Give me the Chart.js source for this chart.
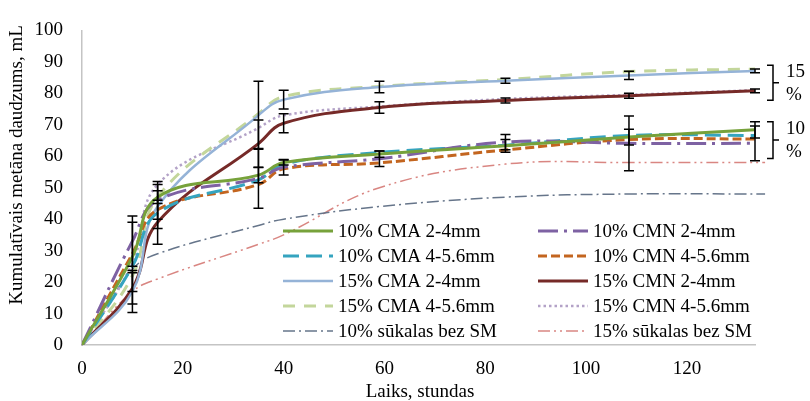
<!DOCTYPE html>
<html>
<head>
<meta charset="utf-8">
<script src="https://cdn.jsdelivr.net/npm/chart.js@4.4.0/dist/chart.umd.min.js"></script>
<style>
  body { margin: 0; background: #fff; }
  #wrap { width: 810px; height: 401px; }
</style>
</head>
<body>
<div id="wrap"><canvas id="methaneChart" width="810" height="401"></canvas></div>
<script>
// sampling times (hours)
var hours = [0, 10, 15, 35, 40, 59, 84, 108.5, 133.5];
var hoursWhey = [0, 10, 15, 35, 40, 59, 84, 108.5, 135.5];

var xTickValues = [0, 20, 40, 60, 80, 100, 120];
var yTickValues = [0, 10, 20, 30, 40, 50, 60, 70, 80, 90, 100];

var seriesLabels = ["10% CMA 2-4mm", "10% CMN 2-4mm", "10% CMA 4-5.6mm", "10% CMN 4-5.6mm",
  "15% CMA 2-4mm", "15% CMN 2-4mm", "15% CMA 4-5.6mm", "15% CMN 4-5.6mm",
  "10% sūkalas bez SM", "15% sūkalas bez SM"];

// cumulative methane, mL
var cma10_24  = [0, 28, 47, 54, 58, 60.7, 63.3, 66.1, 68.4];
var cmn10_24  = [0, 33, 46, 53, 56.5, 59.2, 64.5, 64.1, 64.1];
var cma10_456 = [0, 25, 42, 52.5, 57.5, 61.2, 63.5, 66.6, 66.6];
var cmn10_456 = [0, 29, 43, 51, 56, 57.9, 62, 65.3, 65.5];
var cma15_24  = [0, 17, 44, 73, 78, 82, 84, 85.7, 87.1];
var cmn15_24  = [0, 18, 39, 64, 70.5, 75.5, 77.7, 79.2, 80.8];
var cma15_456 = [0, 22, 47, 73.5, 79, 82.2, 84.4, 86.9, 87.7];
var cmn15_456 = [0, 26, 51, 69, 73, 75.8, 78.2, 79.5, 81];
var whey10    = [0, 24, 29, 38, 40, 44, 47, 48, 48];
var whey15    = [0, 17, 21, 32, 35, 50, 57.5, 58, 58];

// +/- error
var errCma10_24 = [0, 11, 2, 2.4, 0.8, 1, 2, 2.5, 2.6];
var errCmn10_24 = [0, 8, 6, 9.5, 2.5, 2.5, 2.4, 8.7, 5.5];
var errCma15_24 = [0, 6.7, 7, 10.8, 3, 1.8, 0.8, 1.3, 0.6];
var errCmn15_24 = [0, 5, 7, 7.5, 3, 1.8, 0.8, 0.8, 0.6];

// bracket groups on the right
var groupLabels = ["15", "10"];
var groupTop = [88.9, 71];
var groupBottom = [77.8, 59.3];

var serif = "'Liberation Serif', 'Times New Roman', serif";

function pts(xs, ys) {
  return ys.map(function (v, i) { return { x: xs[i], y: v }; });
}

function line(label, xs, ys, color, width, dash, extra) {
  var ds = {
    label: label,
    data: pts(xs, ys),
    borderColor: color,
    borderWidth: width,
    borderDash: dash,
    pointRadius: 0,
    tension: 0.4,
    fill: false
  };
  return Object.assign(ds, extra || {});
}

var datasets = [
  line(seriesLabels[0], hours, cma10_24, '#77a23b', 3, [], { errorBars: errCma10_24 }),
  line(seriesLabels[1], hours, cmn10_24, '#7e62a3', 3, [20, 6, 3, 6], { errorBars: errCmn10_24 }),
  line(seriesLabels[2], hours, cma10_456, '#35a4bf', 3, [16, 7]),
  line(seriesLabels[3], hours, cmn10_456, '#c3651f', 3, [9, 4]),
  line(seriesLabels[4], hours, cma15_24, '#95b3d7', 2.5, [], { errorBars: errCma15_24 }),
  line(seriesLabels[5], hours, cmn15_24, '#762a28', 3, [], { errorBars: errCmn15_24 }),
  line(seriesLabels[6], hours, cma15_456, '#c3d69b', 3, [12, 9]),
  line(seriesLabels[7], hours, cmn15_456, '#b3a2c7', 2.5, [2.5, 3]),
  line(seriesLabels[8], hoursWhey, whey10, '#66758a', 1.5, [12, 4, 2, 4], { clip: false }),
  line(seriesLabels[9], hoursWhey, whey15, '#d98682', 1.5, [12, 4, 2, 4, 2, 4], { clip: false })
];

var overlay = {
  id: 'overlay',
  afterDatasetsDraw: function (chart) {
    var ctx = chart.ctx, xs = chart.scales.x, ys = chart.scales.y;
    ctx.save();
    ctx.strokeStyle = '#000';
    ctx.lineWidth = 1.5;
    chart.data.datasets.forEach(function (ds) {
      if (!ds.errorBars) return;
      ds.data.forEach(function (p, i) {
        var e = ds.errorBars[i];
        if (!e) return;
        var x = xs.getPixelForValue(p.x);
        var y1 = ys.getPixelForValue(p.y + e), y2 = ys.getPixelForValue(p.y - e);
        ctx.beginPath();
        ctx.moveTo(x, y1); ctx.lineTo(x, y2);
        ctx.moveTo(x - 5, y1); ctx.lineTo(x + 5, y1);
        ctx.moveTo(x - 5, y2); ctx.lineTo(x + 5, y2);
        ctx.stroke();
      });
    });
    ctx.restore();
  },
  afterDraw: function (chart) {
    var ctx = chart.ctx, xs = chart.scales.x, ys = chart.scales.y;
    ctx.save();
    ctx.font = '19px ' + serif;
    ctx.fillStyle = '#000';

    // legend, two columns inside the plot
    var colX = [283, 538];
    chart.data.datasets.forEach(function (ds, k) {
      var lx = colX[k % 2], ly = 231 + Math.floor(k / 2) * 25;
      ctx.save();
      ctx.strokeStyle = ds.borderColor;
      ctx.lineWidth = ds.borderWidth;
      ctx.setLineDash(ds.borderDash);
      ctx.beginPath();
      ctx.moveTo(lx, ly);
      ctx.lineTo(lx + 50, ly);
      ctx.stroke();
      ctx.restore();
      ctx.textAlign = 'left';
      ctx.textBaseline = 'middle';
      ctx.fillText(ds.label, lx + 55, ly + 1);
    });

    // axis titles
    ctx.textAlign = 'center';
    ctx.textBaseline = 'middle';
    ctx.fillText('Laiks, stundas', 420, 392);
    ctx.save();
    ctx.translate(17, 165);
    ctx.rotate(-Math.PI / 2);
    ctx.fillText('Kumulatīvais metāna daudzums, mL', 0, 0);
    ctx.restore();

    // group brackets
    var xEnd = xs.getPixelForValue(hours[hours.length - 1]);
    ctx.strokeStyle = '#000';
    ctx.lineWidth = 1.5;
    groupLabels.forEach(function (lab, g) {
      var yt = ys.getPixelForValue(groupTop[g]);
      var yb = ys.getPixelForValue(groupBottom[g]);
      var ym = (yt + yb) / 2;
      var x0 = xEnd + 12, x1 = xEnd + 18;
      ctx.beginPath();
      ctx.moveTo(x0, yt); ctx.lineTo(x1, yt); ctx.lineTo(x1, yb); ctx.lineTo(x0, yb);
      ctx.moveTo(x1, ym); ctx.lineTo(x1 + 6, ym);
      ctx.stroke();
      ctx.textAlign = 'left';
      ctx.fillText(lab, xEnd + 31, ym - 11);
      ctx.fillText('%', xEnd + 31, ym + 12);
    });
    ctx.restore();
  }
};

new Chart(document.getElementById('methaneChart'), {
  type: 'line',
  data: { datasets: datasets },
  options: {
    responsive: false,
    animation: false,
    layout: { padding: { top: 21, right: 55, bottom: 0, left: 0 } },
    plugins: { legend: { display: false }, tooltip: { enabled: false } },
    scales: {
      x: {
        type: 'linear',
        min: 0,
        max: 133.5,
        grid: { display: false, drawTicks: false },
        border: { display: true, color: '#c4c4c4', width: 1.5 },
        ticks: { color: '#000', font: { family: serif, size: 19 }, padding: 13, maxRotation: 0 },
        afterBuildTicks: function (s) { s.ticks = xTickValues.map(function (v) { return { value: v }; }); },
        afterFit: function (s) { s.height = 56; }
      },
      y: {
        min: 0,
        max: 100,
        grid: { display: false, drawTicks: false },
        border: { display: true, color: '#c4c4c4', width: 1.5 },
        ticks: { color: '#000', font: { family: serif, size: 19 }, padding: 19 },
        afterBuildTicks: function (s) { s.ticks = yTickValues.map(function (v) { return { value: v }; }); },
        afterFit: function (s) { s.width = 82; }
      }
    }
  },
  plugins: [overlay]
});
</script>
</body>
</html>
